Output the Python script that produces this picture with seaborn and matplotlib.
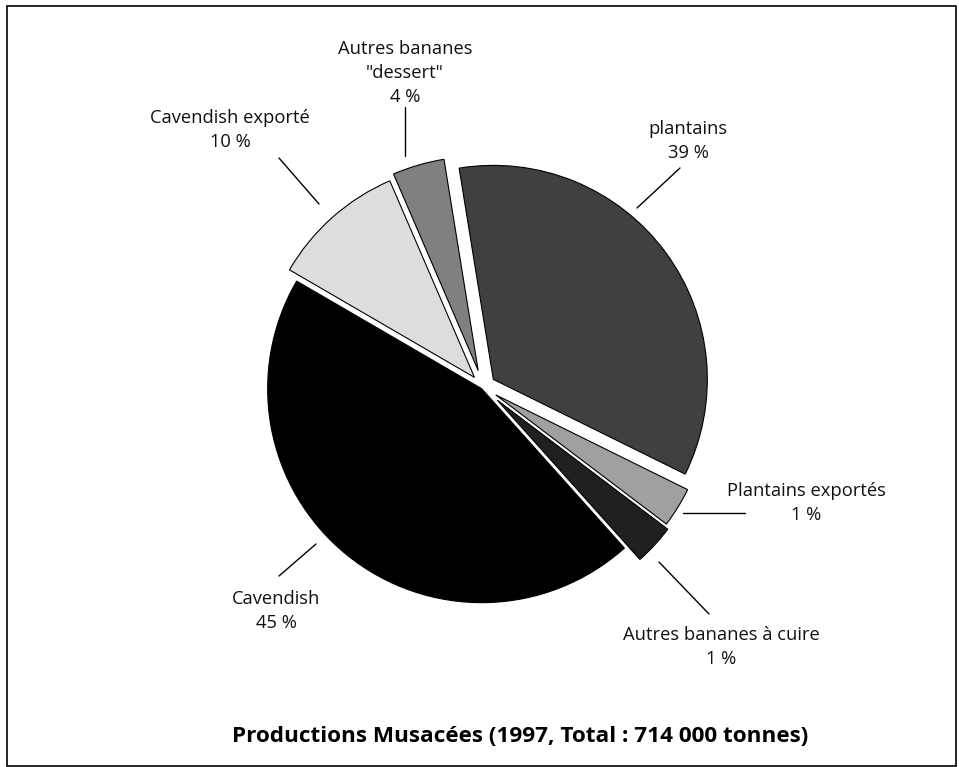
import matplotlib
matplotlib.use("Agg")
import matplotlib.pyplot as plt
import seaborn as sns
from matplotlib.patches import Rectangle

sns.set_style("white")
plt.rcParams["font.family"] = ["Open Sans", "DejaVu Sans"]

# shares as drawn (slice sizes) and the printed labels
names = ["plantains", "Plantains exportés", "Autres bananes à cuire",
         "Cavendish", "Cavendish exporté", "Autres bananes\n\"dessert\""]
shares = [34.7, 3.0, 3.05, 44.8, 10.1, 3.9]
printed_pct = [39, 1, 1, 45, 10, 4]
greys = ["#404040", "#a0a0a0", "#202020", "#000000", "#dddddd", "#808080"]
explode_frac = [0.06, 0.07, 0.09, 0.01, 0.06, 0.08]

W, H = 959, 767
R = 214


def px(x, y):
    # pixel position (origin top-left) -> data coords
    return x, H - y


fig = plt.figure(figsize=(W / 100, H / 100), dpi=100)
ax = fig.add_axes([0, 0, 1, 1])

cx, cy = px(483, 387)
# matplotlib explode is in data units, so scale by radius
ax.pie(shares, explode=[e * R for e in explode_frac], colors=greys,
       startangle=99.2, counterclock=False, center=(cx, cy), radius=R,
       wedgeprops=dict(edgecolor="black", linewidth=0.8))
ax.set_xlim(0, W)
ax.set_ylim(0, H)
ax.set_aspect("auto")
ax.axis("off")

# label block centres and leader lines (pixel layout)
label_pos = [(688, 141), (806, 503), (721, 647), (276, 611), (230, 130), (405, 73)]
leaders = [((680, 168), (637, 208)), ((683, 513), (745, 513)),
           ((659, 562), (709, 614)), ((316, 544), (279, 576)),
           ((279, 158), (319, 204)), ((405, 107), (405, 156))]

for name, pct, (lx, ly), (p0, p1) in zip(names, printed_pct, label_pos, leaders):
    tx, ty = px(lx, ly)
    ax.text(tx, ty, f"{name}\n{pct} %", ha="center", va="center",
            fontsize=13.2, color="#111111", linespacing=1.4)
    a, b = px(*p0), px(*p1)
    ax.plot([a[0], b[0]], [a[1], b[1]], color="black", lw=1)

tx, ty = px(520, 737)
ax.text(tx, ty, "Productions Musacées (1997, Total : 714 000 tonnes)",
        ha="center", va="center", fontsize=16.2, fontweight="bold", color="black")

fig.add_artist(Rectangle((7 / W, 1 / H), 949 / W, 760 / H, transform=fig.transFigure,
                         fill=False, edgecolor="black", linewidth=1.2))

fig.savefig("out.png", dpi=100)
